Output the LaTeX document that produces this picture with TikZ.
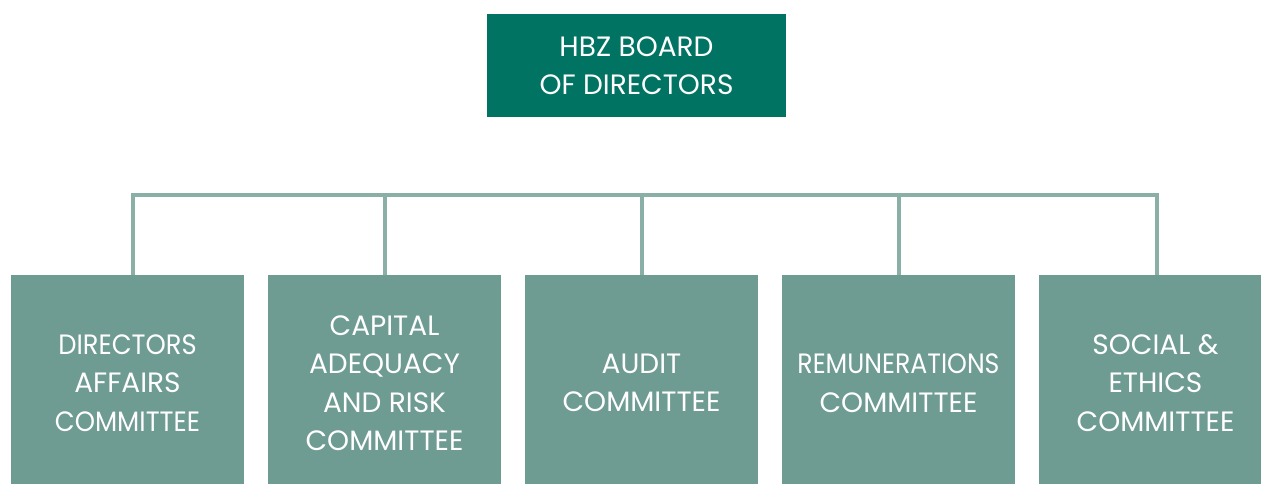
\documentclass[tikz,border=0pt]{standalone}
\usepackage{fontspec}
\setmainfont{Poppins}
\definecolor{boardgreen}{HTML}{007363}
\definecolor{cmtgreen}{HTML}{6E9B92}
\definecolor{linkgreen}{HTML}{89AFA7}
\newcommand{\narrow}[2][0.92]{\scalebox{#1}[1]{#2}}

\begin{document}
\begin{tikzpicture}[x=1pt, y=-1pt,
    board/.style={fill=boardgreen, text=white, inner sep=0pt, align=center,
        minimum width=299pt, minimum height=103pt, font=\fontsize{28}{38.5}\selectfont},
    cmt/.style={fill=cmtgreen, text=white, inner sep=0pt, align=center,
        minimum width=233pt, minimum height=216pt, font=\fontsize{28}{38.5}\selectfont},
    link/.style={draw=linkgreen, line width=4pt}]
    \clip (0, 0) rectangle (1261, 484);
    % board on top
    \node [board] (hbz) at (636.5, 65.5) {HBZ BOARD\\OF DIRECTORS};
    % committees
    \node [cmt] (dir) at (127.5, 383) {\narrow{DIRECTORS}\\AFFAIRS\\\narrow{COMMITTEE}};
    \node [cmt] (cap) at (384.5, 383) {CAPITAL\\ADEQUACY\\AND RISK\\COMMITTEE};
    \node [cmt] (aud) at (641.5, 383) {AUDIT\\COMMITTEE};
    \node [cmt] (rem) at (898.5, 383) {\narrow[0.9]{REMUNERATIONS}\\COMMITTEE};
    \node [cmt] (soc) at (1155.5, 383) {SOCIAL \&\\ETHICS\\COMMITTEE};
    % connectors
    \coordinate (bus) at (642, 195);
    \draw [link] ([xshift=5.5pt]dir.north) |- (bus) -| ([xshift=1pt]soc.north);
    \draw [link] (cap.north) -- (cap.north |- bus);
    \draw [link] (aud.north) -- (aud.north |- bus);
    \draw [link] (rem.north) -- (rem.north |- bus);
\end{tikzpicture}
\end{document}
